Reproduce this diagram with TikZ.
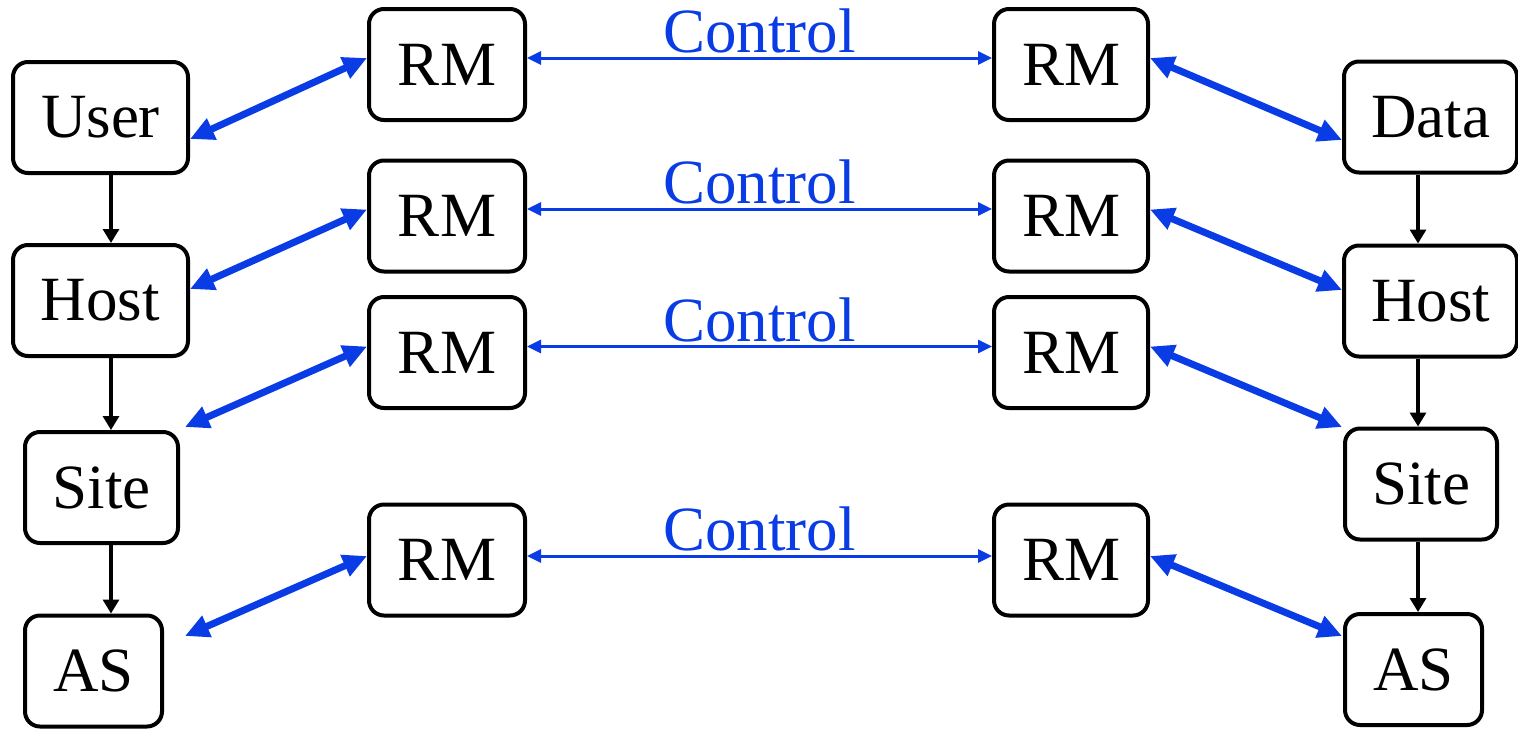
\documentclass[tikz,border=0pt]{standalone}
\usepackage{fontspec}
\setmainfont{Liberation Serif}
\usetikzlibrary{arrows.meta}
\definecolor{ctlblue}{RGB}{10,60,230}

\begin{document}
\begin{tikzpicture}[x=.5pt, y=-.5pt,
  every node/.style={font=\fontsize{31.5}{36}\selectfont},
  box/.style={draw, line width=2pt, rounded corners=7.5pt, minimum height=55.5pt, inner sep=0pt},
  flow/.style={line width=1.6pt, -{Triangle[length=7pt,width=8pt]}},
  link/.style={ctlblue, line width=3.5pt, {Triangle[length=12pt,width=11pt]}-{Triangle[length=12pt,width=11pt]}},
  ctrl/.style={ctlblue, line width=1.5pt, {Triangle[length=7pt,width=6.5pt]}-{Triangle[length=7pt,width=6.5pt]}}]
  \useasboundingbox (0,0) rectangle (1518,728);

  % left hierarchy
  \node[box, minimum width=87.5pt] (user) at (100.5,117.5) {User};
  \node[box, minimum width=87.5pt] (hostL) at (100.5,300.5) {Host};
  \node[box, minimum width=76.5pt] (siteL) at (101.5,487.5) {Site};
  \node[box, minimum width=68.5pt] (asL) at (93.5,671) {AS};

  % right hierarchy
  \node[box, minimum width=86.5pt] (data) at (1430.5,117) {Data};
  \node[box, minimum width=86.5pt] (hostR) at (1430.5,301) {Host};
  \node[box, minimum width=76pt] (siteR) at (1421,484) {Site};
  \node[box, minimum width=68.5pt] (asR) at (1413.5,669.5) {AS};

  % resource managers
  \node[box, minimum width=78pt] (rmL1) at (447,64.5) {RM};
  \node[box, minimum width=78pt] (rmL2) at (447,216) {RM};
  \node[box, minimum width=78pt] (rmL3) at (447,352.5) {RM};
  \node[box, minimum width=78pt] (rmL4) at (447,560) {RM};
  \node[box, minimum width=77pt] (rmR1) at (1071,64.5) {RM};
  \node[box, minimum width=77pt] (rmR2) at (1071,216) {RM};
  \node[box, minimum width=77pt] (rmR3) at (1071,352.5) {RM};
  \node[box, minimum width=77pt] (rmR4) at (1071,560) {RM};

  \coordinate (colL) at (111,0);
  \coordinate (colR) at (1418,0);
  \coordinate (siteLe) at (185,427);
  \coordinate (asLe) at (185,636);
  \coordinate (siteRe) at (1342,427);
  \coordinate (asRe) at (1342,636);

  \draw[flow] (user.south -| colL) -- (hostL.north -| colL);
  \draw[flow] (hostL.south -| colL) -- (siteL.north -| colL);
  \draw[flow] (siteL.south -| colL) -- (asL.north -| colL);
  \draw[flow] (data.south -| colR) -- (hostR.north -| colR);
  \draw[flow] (hostR.south -| colR) -- (siteR.north -| colR);
  \draw[flow] (siteR.south -| colR) -- (asR.north -| colR);

  \draw[link] ([yshift=-10.75pt]user.east) -- ([yshift=3.25pt]rmL1.west);
  \draw[link] ([yshift=5.75pt]hostL.east) -- ([yshift=3.25pt]rmL2.west);
  \draw[link] (siteLe) -- ([yshift=3pt]rmL3.west);
  \draw[link] (asLe) -- ([yshift=2pt]rmL4.west);
  \draw[link] ([yshift=3.25pt]rmR1.east) -- ([yshift=-11.5pt]data.west);
  \draw[link] ([yshift=3.25pt]rmR2.east) -- ([yshift=5.5pt]hostR.west);
  \draw[link] ([yshift=3pt]rmR3.east) -- (siteRe);
  \draw[link] ([yshift=2pt]rmR4.east) -- (asRe);

  \draw[ctrl] ([yshift=3.25pt]rmL1.east) -- node[above, inner sep=1.5pt] {Control} ([yshift=3.25pt]rmR1.west);
  \draw[ctrl] ([yshift=3.5pt]rmL2.east) -- node[above, inner sep=1.5pt] {Control} ([yshift=3.5pt]rmR2.west);
  \draw[ctrl] ([yshift=3pt]rmL3.east) -- node[above, inner sep=1.5pt] {Control} ([yshift=3pt]rmR3.west);
  \draw[ctrl] ([yshift=2pt]rmL4.east) -- node[above, inner sep=1.5pt] {Control} ([yshift=2pt]rmR4.west);
\end{tikzpicture}
\end{document}
